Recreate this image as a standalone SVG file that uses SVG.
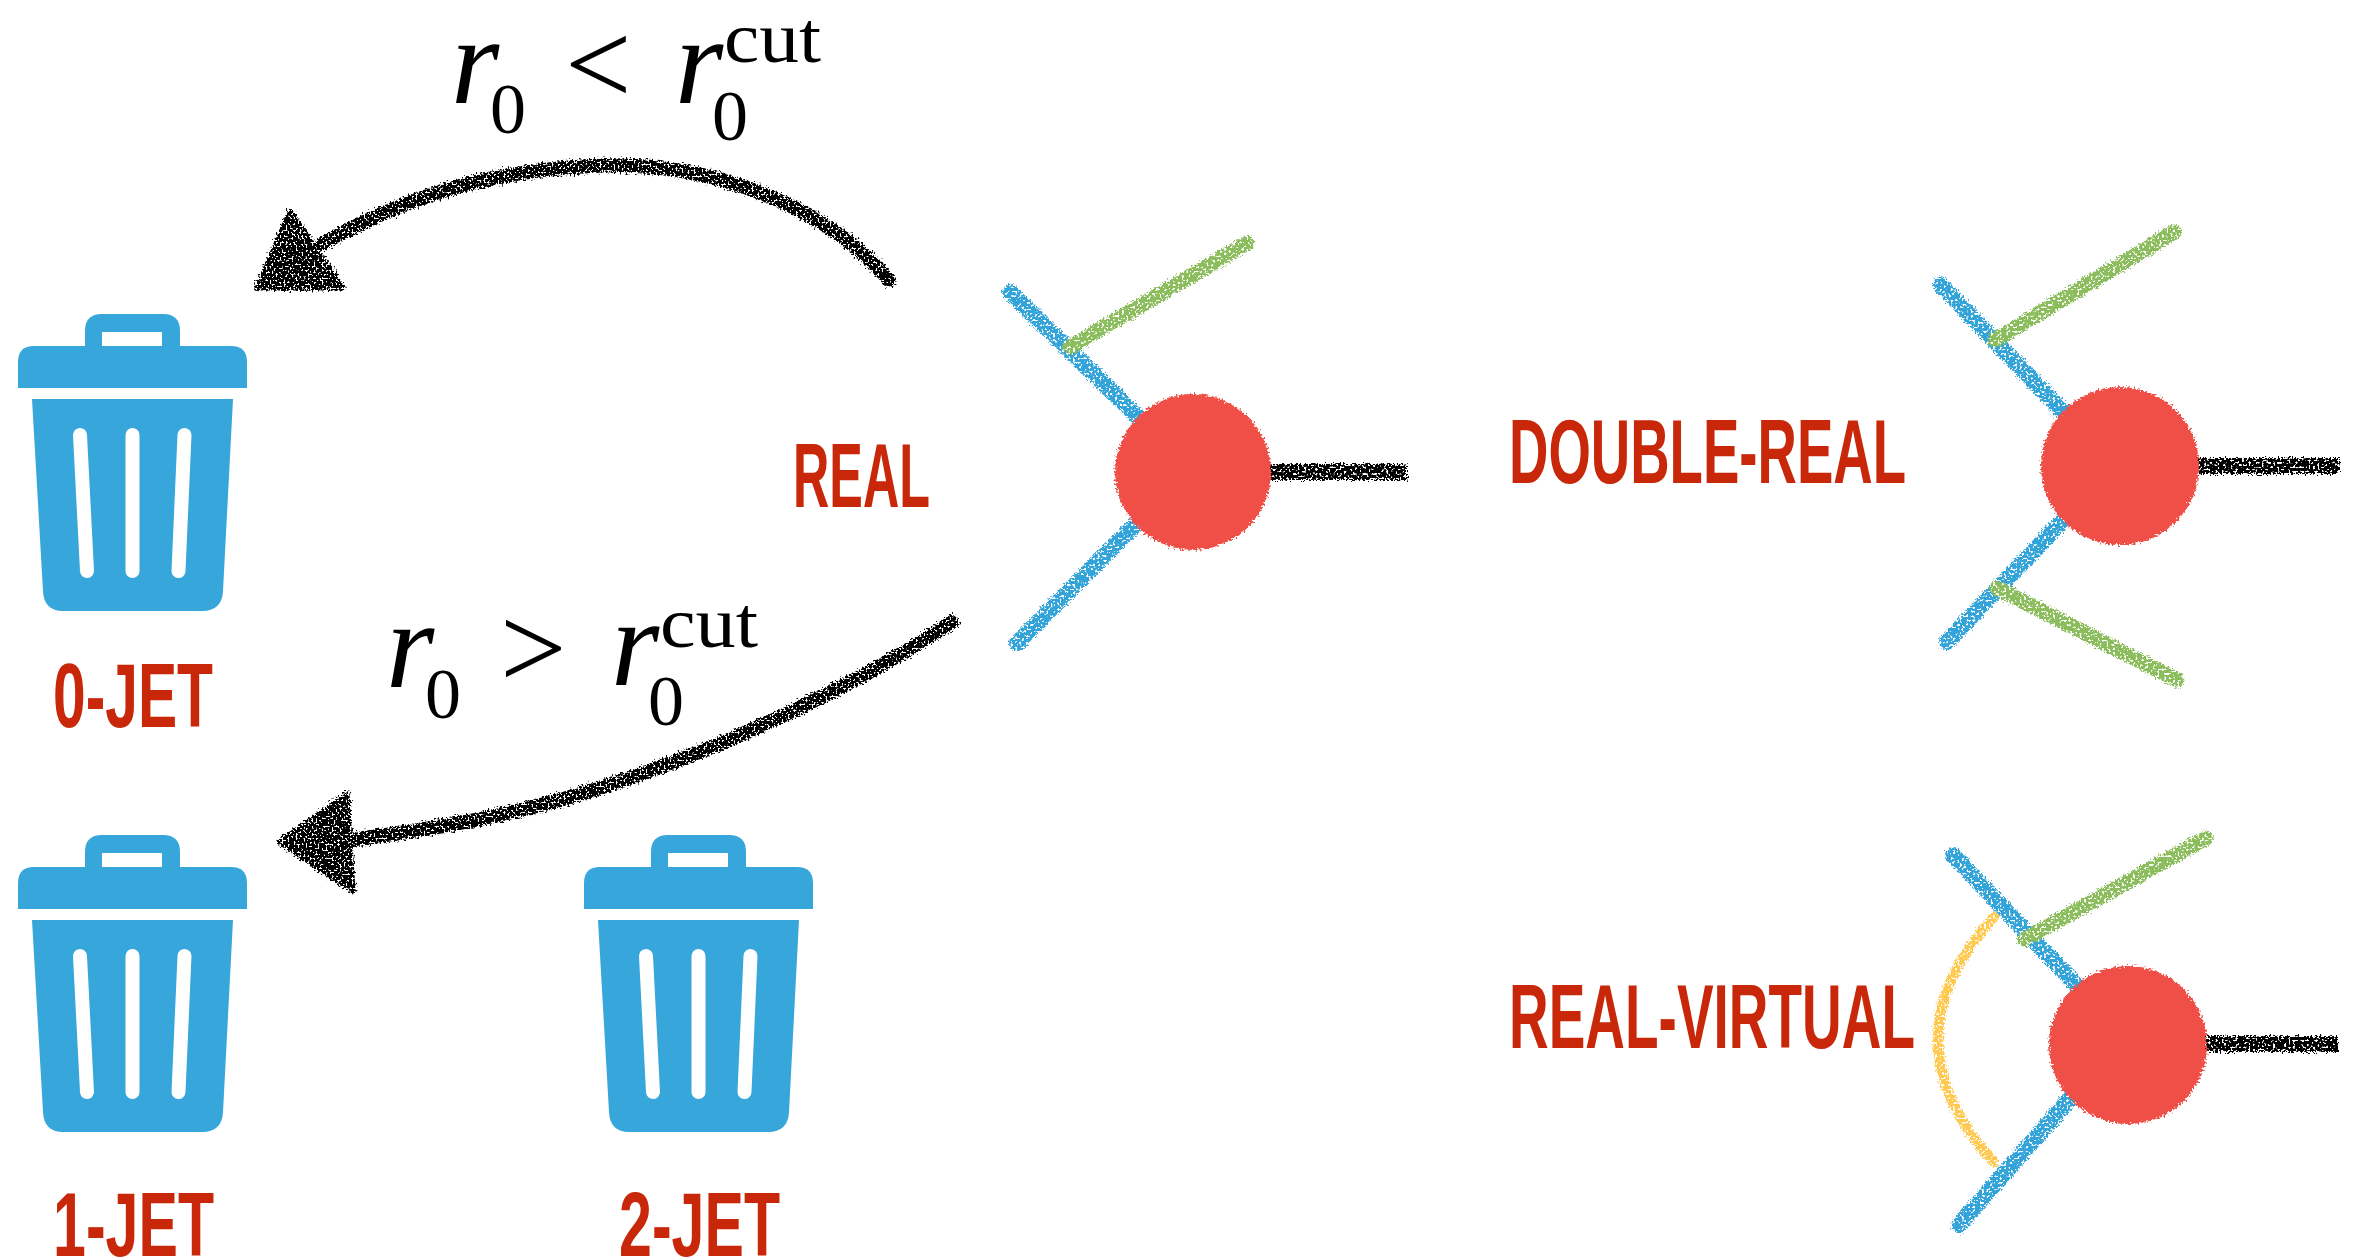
<svg xmlns="http://www.w3.org/2000/svg" xmlns:xlink="http://www.w3.org/1999/xlink" width="2356" height="1260" viewBox="0 0 2356 1260">
  <style>
    .lbl { font-family: "Liberation Sans Narrow", "Liberation Sans", "DejaVu Sans", sans-serif; font-weight: bold; font-size: 91px; fill: #C9270A; }
    .math { font-family: "Liberation Serif", "DejaVu Serif", serif; fill: #000; }
    .it { font-style: italic; }
    .ln { fill: none; stroke-linecap: round; }
    .blue { stroke: #33A4DA; stroke-width: 16; }
    .green { stroke: #8BBD5D; stroke-width: 15; }
    .black { stroke: #000; stroke-width: 16; stroke-linecap: butt; }
    .yellow { stroke: #FFC94F; stroke-width: 10; }
    .blob { fill: #EF4F46; }
    .arrow { fill: none; stroke: #000; stroke-width: 14; stroke-linecap: round; }
    .can { fill: #36A6DB; }
    .slot { stroke: #fff; stroke-width: 14; stroke-linecap: round; }
  </style>
  <defs>
    <!-- crayon stroke: ragged edges plus small paper-grain specks -->
    <filter id="chalk" filterUnits="userSpaceOnUse" x="0" y="0" width="2356" height="1260">
      <feTurbulence type="fractalNoise" baseFrequency="0.6" numOctaves="2" seed="4" result="n"/>
      <feDisplacementMap in="SourceGraphic" in2="n" scale="8" xChannelSelector="R" yChannelSelector="G" result="d"/>
      <feTurbulence type="fractalNoise" baseFrequency="0.45" numOctaves="1" seed="7" result="n2"/>
      <feColorMatrix in="n2" type="matrix" values="0 0 0 0 0  0 0 0 0 0  0 0 0 0 0  0 0 0 -14 9" result="mask"/>
      <feComposite in="d" in2="mask" operator="in"/>
    </filter>
    <!-- soft ragged edge only, for filled blobs -->
    <filter id="fuzz" filterUnits="userSpaceOnUse" x="0" y="0" width="2356" height="1260">
      <feTurbulence type="fractalNoise" baseFrequency="0.5" numOctaves="2" seed="11" result="n"/>
      <feDisplacementMap in="SourceGraphic" in2="n" scale="8" xChannelSelector="R" yChannelSelector="G"/>
    </filter>
    <!-- charcoal for the hand-drawn arrows -->
    <filter id="charcoal" filterUnits="userSpaceOnUse" x="0" y="0" width="2356" height="1260">
      <feTurbulence type="fractalNoise" baseFrequency="0.5" numOctaves="2" seed="9" result="n"/>
      <feDisplacementMap in="SourceGraphic" in2="n" scale="10" xChannelSelector="R" yChannelSelector="G" result="d"/>
      <feTurbulence type="fractalNoise" baseFrequency="0.5" numOctaves="1" seed="3" result="n2"/>
      <feColorMatrix in="n2" type="matrix" values="0 0 0 0 0  0 0 0 0 0  0 0 0 0 0  0 0 0 -14 9" result="mask"/>
      <feComposite in="d" in2="mask" operator="in"/>
    </filter>
    <!-- trash can icon -->
    <g id="can">
      <path class="can" fill-rule="evenodd" d="M85,348 V331 Q85,314 102,314 H163 Q180,314 180,331 V348 Z M102,332 H162 V348 H102 Z"/>
      <path class="can" d="M18,388 V362 Q18,346 34,346 H231 Q247,346 247,362 V388 Z"/>
      <path class="can" d="M32,399 H233 L223,591 Q222,611 202,611 H63 Q44,611 43,591 Z"/>
      <line class="slot" x1="80" y1="435" x2="87" y2="571"/>
      <line class="slot" x1="132.5" y1="435" x2="132.5" y2="571"/>
      <line class="slot" x1="184.5" y1="435" x2="178.5" y2="571"/>
    </g>
  </defs>

  <rect width="2356" height="1260" fill="#fff"/>

  <!-- jet bins -->
  <g id="bin-0jet">
    <use xlink:href="#can" href="#can"/>
    <text class="lbl" x="53" y="727" textLength="160" lengthAdjust="spacingAndGlyphs">0-JET</text>
  </g>
  <g id="bin-1jet">
    <use xlink:href="#can" href="#can" transform="translate(0,521)"/>
    <text class="lbl" x="53" y="1256" textLength="161" lengthAdjust="spacingAndGlyphs">1-JET</text>
  </g>
  <g id="bin-2jet">
    <use xlink:href="#can" href="#can" transform="translate(566,521)"/>
    <text class="lbl" x="619" y="1256" textLength="161" lengthAdjust="spacingAndGlyphs">2-JET</text>
  </g>

  <!-- real emission vertex -->
  <g id="real">
    <text class="lbl" x="793" y="507" textLength="137" lengthAdjust="spacingAndGlyphs">REAL</text>
    <g filter="url(#chalk)">
      <line class="ln black" x1="1193" y1="472" x2="1407" y2="472"/>
      <line class="ln blue" x1="1010" y1="292" x2="1180" y2="458"/>
      <line class="ln blue" x1="1017" y1="643" x2="1160" y2="500"/>
      <line class="ln green" x1="1070" y1="347" x2="1247" y2="243"/>
    </g>
    <circle class="blob" cx="1193" cy="472" r="78" filter="url(#fuzz)"/>
  </g>

  <!-- double-real vertex -->
  <g id="double-real">
    <text class="lbl" x="1509" y="483" textLength="397" lengthAdjust="spacingAndGlyphs">DOUBLE-REAL</text>
    <g filter="url(#chalk)">
      <line class="ln black" x1="2121" y1="466" x2="2340" y2="466"/>
      <line class="ln blue" x1="1941" y1="285" x2="2090" y2="440"/>
      <line class="ln blue" x1="1947" y1="642" x2="2090" y2="492"/>
      <line class="ln green" x1="1995" y1="340" x2="2174" y2="232"/>
      <line class="ln green" x1="1997" y1="588" x2="2177" y2="680"/>
    </g>
    <circle class="blob" cx="2120" cy="466" r="79" filter="url(#fuzz)"/>
  </g>

  <!-- real-virtual vertex -->
  <g id="real-virtual">
    <text class="lbl" x="1509" y="1048" textLength="406" lengthAdjust="spacingAndGlyphs">REAL-VIRTUAL</text>
    <g filter="url(#chalk)">
      <line class="ln black" x1="2128" y1="1044" x2="2338" y2="1044"/>
      <line class="ln blue" x1="1953" y1="855" x2="2100" y2="1010"/>
      <line class="ln blue" x1="1959" y1="1225" x2="2095" y2="1070"/>
      <line class="ln green" x1="2025" y1="939" x2="2206" y2="838"/>
      <path class="ln yellow" d="M1994,917 Q1882,1040 1994,1162"/>
    </g>
    <circle class="blob" cx="2128" cy="1045" r="79" filter="url(#fuzz)"/>
  </g>

  <!-- cut arrows -->
  <g id="connectors" filter="url(#charcoal)">
    <path class="arrow" d="M889,280 C820,200 700,160 590,166 C480,172 400,200 322,244"/>
    <polygon points="290,211 257,288 343,288" fill="#000" stroke="#000" stroke-width="5" stroke-linejoin="round"/>
    <path class="arrow" d="M952,622 C850,690 700,760 560,800 C480,822 410,832 350,840"/>
    <polygon points="279,842 347,794 353,891" fill="#000" stroke="#000" stroke-width="5" stroke-linejoin="round"/>
  </g>

  <!-- cut conditions -->
  <g id="cond-below">
    <text class="math it" x="451" y="103" font-size="124">r</text>
    <text class="math" x="490" y="133" font-size="72">0</text>
    <text class="math" x="565" y="104" font-size="118">&lt;</text>
    <text class="math it" x="675" y="103" font-size="124">r</text>
    <text class="math" x="712" y="140" font-size="72">0</text>
    <text class="math" x="724" y="62" font-size="72" textLength="97" lengthAdjust="spacingAndGlyphs">cut</text>
  </g>
  <g id="cond-above">
    <text class="math it" x="386" y="687" font-size="124">r</text>
    <text class="math" x="425" y="718" font-size="72">0</text>
    <text class="math" x="500" y="688" font-size="118">&gt;</text>
    <text class="math it" x="611" y="685" font-size="124">r</text>
    <text class="math" x="648" y="725" font-size="72">0</text>
    <text class="math" x="660" y="647" font-size="72" textLength="98" lengthAdjust="spacingAndGlyphs">cut</text>
  </g>
</svg>
